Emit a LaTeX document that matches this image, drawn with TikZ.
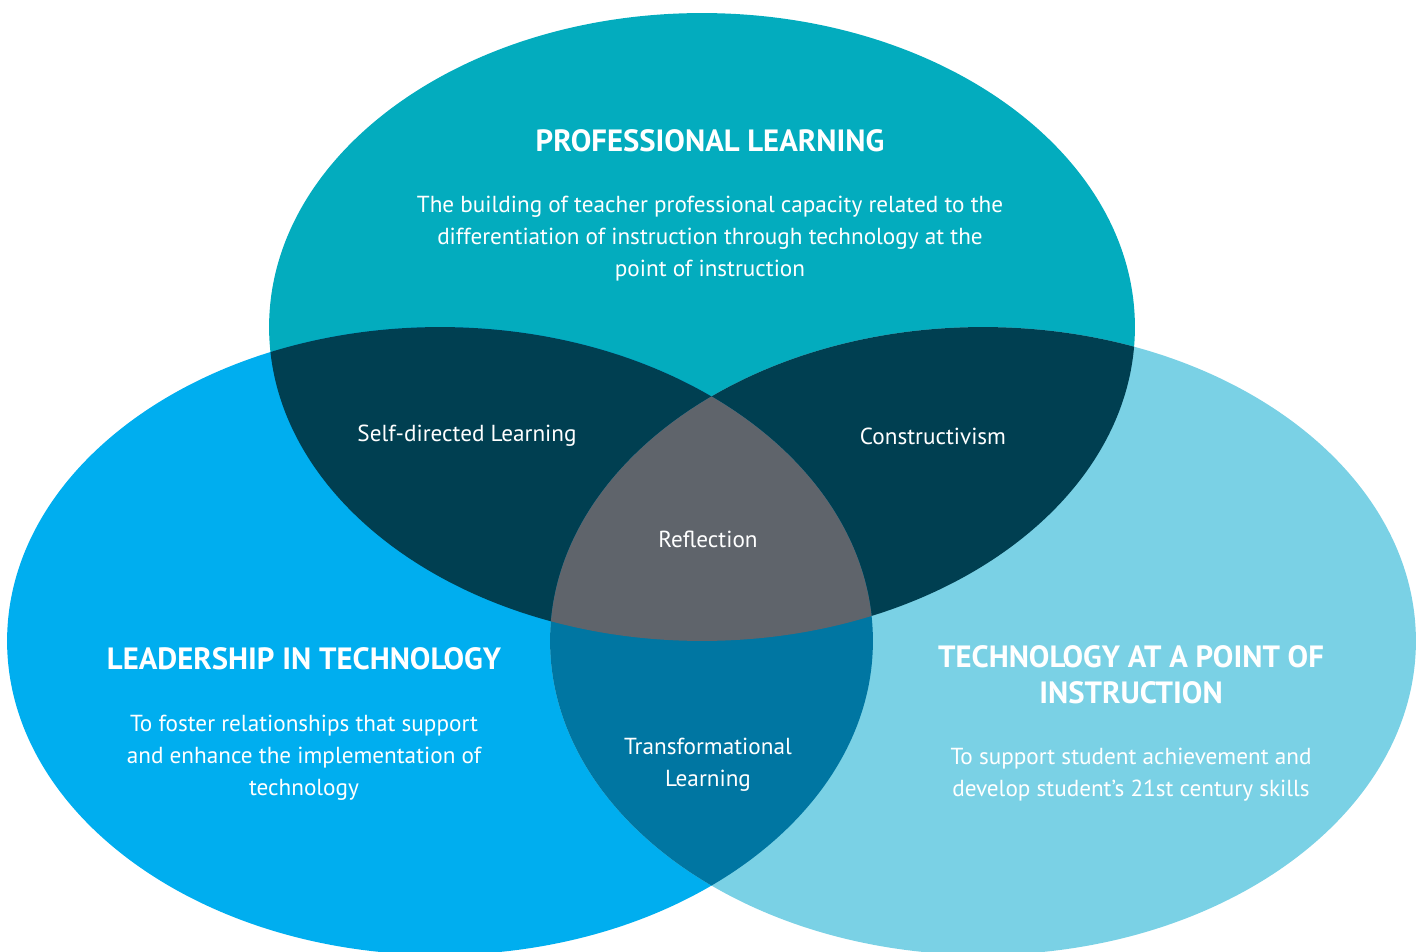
\documentclass[tikz,border=0pt]{standalone}
\usepackage{fontspec}
\setmainfont{PT Sans}
\usepackage{tikz}
\definecolor{proftop}{HTML}{03ACBE}
\definecolor{leadblue}{HTML}{00AEEF}
\definecolor{techblue}{HTML}{7AD1E5}
\definecolor{pairdark}{HTML}{003F51}
\definecolor{pairmid}{HTML}{0076A2}
\definecolor{coregray}{HTML}{5F646B}

\begin{document}
\begin{tikzpicture}[
            x = 0.02cm,
            y = -0.02cm,
            every node/.style = {text = white, align = center, inner sep = 0pt},
            head/.style = {font = \fontsize{17.5}{20.5}\selectfont\bfseries},
            body/.style = {font = \fontsize{13.2}{18.2}\selectfont},
            region/.style = {x radius = 8.66cm, y radius = 6.28cm}
        ]
        \useasboundingbox (0,0) rectangle (1419,952);

        % the three sets
        \fill[proftop] (702,327) ellipse [region];
        \fill[leadblue] (440,641) ellipse [region];
        \fill[techblue] (983,641) ellipse [region];

        % overlaps with the top set
        \begin{scope}
            \clip (702,327) ellipse [region];
            \fill[pairdark] (440,641) ellipse [region];
            \fill[pairdark] (983,641) ellipse [region];
        \end{scope}

        % lower overlap and the middle
        \begin{scope}
            \clip (440,641) ellipse [region];
            \fill[pairmid] (983,641) ellipse [region];
            \clip (702,327) ellipse [region];
            \fill[coregray] (983,641) ellipse [region];
        \end{scope}

        \node[head] (proftitle) at (710,141) {PROFESSIONAL LEARNING};
        \node[body] (proftext) at (710,239) {The building of teacher professional capacity related to the\\
            differentiation of instruction through technology at the\\ point of instruction};

        \node[head] (leadtitle) at (304,659) {LEADERSHIP IN TECHNOLOGY};
        \node[body] (leadtext) at (304,758) {To foster relationships that support\\
            and enhance the implementation of\\ technology};

        \node[head] (techtitle) at (1131,675) {TECHNOLOGY AT A POINT OF\\ INSTRUCTION};
        \node[body] (techtext) at (1131,775) {To support student achievement and\\
            develop student's 21st century skills};

        \node[body] (selfdir) at (467,436) {Self-directed Learning};
        \node[body] (construct) at (933,436) {Constructivism};
        \node[body] (reflect) at (708,539) {Reflection};
        \node[body] (transform) at (708,765) {Transformational\\ Learning};
\end{tikzpicture}
\end{document}
